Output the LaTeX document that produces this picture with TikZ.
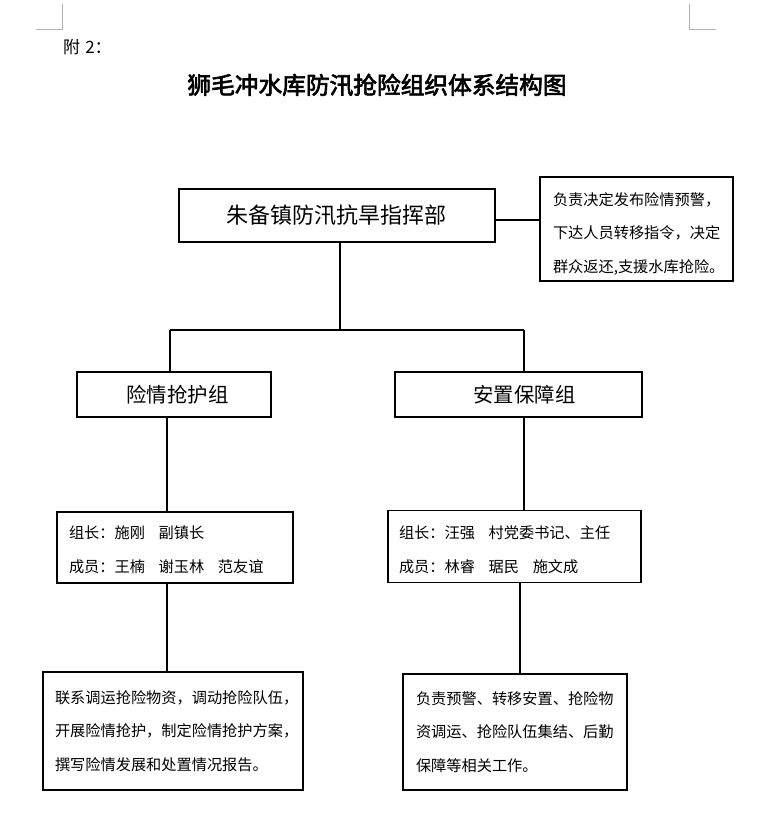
\documentclass[tikz,border=0pt]{standalone}
\usepackage{fontspec}
\setmainfont{Noto Sans CJK SC}
\newfontfamily\cjkb{Noto Sans CJK SC}[FakeBold=2.8]
\newcommand{\firstline}[1]{\rule{0pt}{#1}}
\begin{document}
\begin{tikzpicture}[x=1pt,y=-1pt,
  box/.style={draw=black, line width=1.2pt, inner ysep=0pt},
  link/.style={draw=black, line width=1.2pt},
  cornermark/.style={draw=black!30, line width=1pt},
  small/.style={font={\fontsize{15.2}{33.5}\selectfont}, align=left}
]
\useasboundingbox (0,0) rectangle (759,837);
% page corner marks
\draw[cornermark] (36,30) -- (62,30) -- (62,4);
\draw[cornermark] (689,4) -- (689,30) -- (716,30);
% header
\node[anchor=west, inner sep=0pt, font={\fontsize{17}{19}\selectfont}] (fu) at (63,47) {附\hspace{0.3em}2：};
\node[inner sep=0pt, font={\fontsize{23.7}{27}\selectfont\cjkb}] (title) at (377,85) {狮毛冲水库防汛抢险组织体系结构图};
% top box
\node[box, minimum width=316pt, minimum height=53pt, inner xsep=0pt, font={\fontsize{22}{26}\selectfont}] (top) at (337,215.5) {\hspace*{-2pt}朱备镇防汛抗旱指挥部};
\node[box, small, text width=167pt, inner xsep=13pt, minimum height=104pt] (note) at (636.5,229) {\firstline{22.4pt}负责决定发布险情预警，\\下达人员转移指令，决定\\群众返还,支援水库抢险。};
% group boxes
\node[box, minimum width=194pt, minimum height=45pt, inner xsep=0pt, font={\fontsize{20.4}{24}\selectfont}] (grpL) at (174,394.5) {\hspace*{7pt}险情抢护组};
\node[box, minimum width=247pt, minimum height=45pt, inner xsep=0pt, font={\fontsize{20.4}{24}\selectfont}] (grpR) at (518.5,394.5) {\hspace*{12pt}安置保障组};
% member boxes
\node[box, small, text width=212pt, inner xsep=12pt, minimum height=71pt] (memL) at (175,547.5) {\firstline{17.5pt}组长：施刚\hspace{0.9em}副镇长\\成员：王楠\hspace{0.9em}谢玉林\hspace{0.9em}范友谊};
\node[box, small, text width=231pt, inner xsep=11pt, minimum height=72pt] (memR) at (514.5,546.5) {\firstline{19pt}组长：汪强\hspace{0.9em}村党委书记、主任\\成员：林睿\hspace{0.9em}琚民\hspace{0.9em}施文成};
% duty boxes
\node[box, small, text width=236pt, inner xsep=12pt, minimum height=118pt] (dutyL) at (173,731) {联系调运抢险物资，调动抢险队伍，\\开展险情抢护，制定险情抢护方案，\\撰写险情发展和处置情况报告。};
\node[box, small, text width=198pt, inner xsep=13pt, minimum height=116pt] (dutyR) at (515,732) {负责预警、转移安置、抢险物\\资调运、抢险队伍集结、后勤\\保障等相关工作。};
% connectors
\coordinate (j) at (340,330);
\coordinate (jl) at (170,330);
\coordinate (jr) at (524,330);
\draw[link] (top.south -| j) -- (j);
\draw[link] (jl) -- (jr);
\draw[link] (jl) -- (grpL.north -| jl);
\draw[link] (jr) -- (grpR.north -| jr);
\draw[link] (top.east |- 0,220) -- (note.west |- 0,220);
\coordinate (cl) at (167,0);
\coordinate (cr) at (524,0);
\coordinate (cr2) at (520,0);
\draw[link] (grpL.south -| cl) -- (memL.north -| cl);
\draw[link] (memL.south -| cl) -- (dutyL.north -| cl);
\draw[link] (grpR.south -| cr) -- (memR.north -| cr);
\draw[link] (memR.south -| cr2) -- (dutyR.north -| cr2);
\end{tikzpicture}
\end{document}
